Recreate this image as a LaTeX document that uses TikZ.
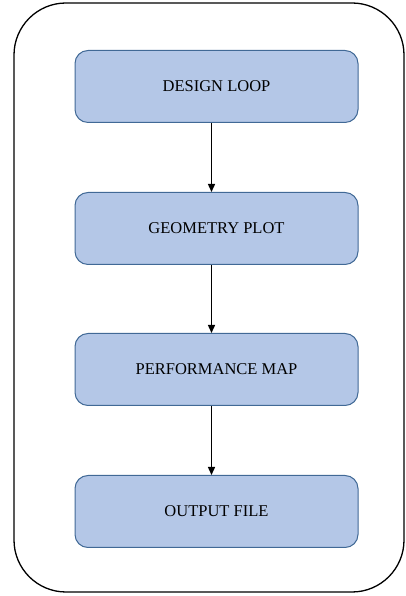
\documentclass[tikz,border=0pt]{standalone}
\usepackage{fontspec}
\setmainfont{Liberation Serif}
\usetikzlibrary{arrows.meta,calc}
\definecolor{stagefill}{RGB}{180,199,231}
\definecolor{stageline}{RGB}{65,105,150}
\begin{document}
\begin{tikzpicture}[x=1pt,y=1pt,
  stage/.style={draw=stageline, line width=1pt, fill=stagefill,
    rounded corners=13pt, minimum width=283pt, minimum height=72pt, inner sep=0pt,
    font=\fontsize{16.5}{18}\selectfont},
  flow/.style={line width=1.4pt, -{Triangle[length=8pt,width=7pt]}}]
\useasboundingbox (0,0) rectangle (405,596);
\draw[line width=1.3pt, rounded corners=52pt] (14,4) rectangle (404,593);
\node[stage] (loop) at (216.5,509.5) {DESIGN LOOP};
\node[stage] (geom) at (216.5,367.5) {GEOMETRY PLOT};
\node[stage] (perf) at (216.5,226.5) {PERFORMANCE MAP};
\node[stage] (out)  at (216.5,84.5)  {OUTPUT FILE};
\draw[flow] ($(loop.south)+(-5,0)$) -- ($(geom.north)+(-5,0)$);
\draw[flow] ($(geom.south)+(-5,0)$) -- ($(perf.north)+(-5,0)$);
\draw[flow] ($(perf.south)+(-5,0)$) -- ($(out.north)+(-5,0)$);
\end{tikzpicture}
\end{document}
